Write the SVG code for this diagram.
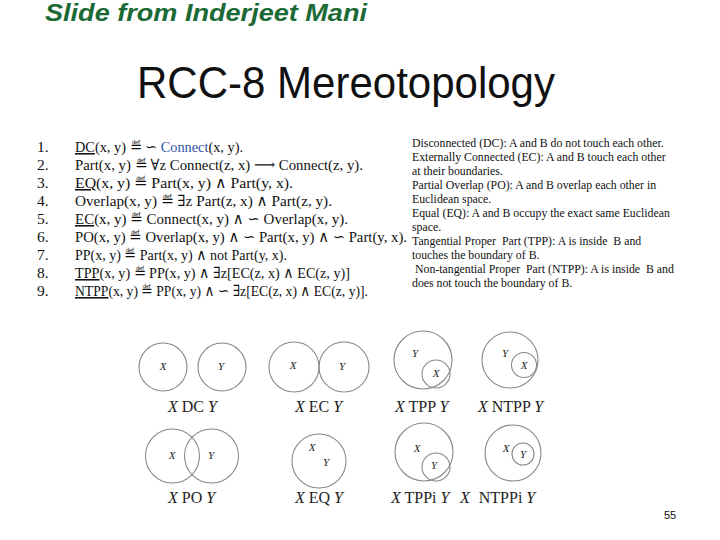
<svg xmlns="http://www.w3.org/2000/svg" width="720" height="540" viewBox="0 0 720 540">
<style>
.hdr{font-family:"Liberation Sans",Arial,sans-serif;font-weight:bold;font-style:italic;font-size:24px;fill:#1b6a36}
.ttl{font-family:"Liberation Sans",Arial,sans-serif;font-size:44px;fill:#111}
.def{font-family:"Liberation Serif","DejaVu Serif",serif;font-size:15.5px;fill:#111}
.ul{text-decoration:underline}
.blue{fill:#2f55a4}
.desc{font-family:"Liberation Serif","DejaVu Serif",serif;font-size:11.8px;fill:#111}
.c{fill:none;stroke:#888;stroke-width:1.1}
.in{font-family:"Liberation Serif",serif;font-style:italic;font-size:11px;fill:#222;text-anchor:middle}
.lbl{font-family:"Liberation Serif",serif;font-size:16px;fill:#222}
.it{font-style:italic}
.pg{font-family:"Liberation Sans",Arial,sans-serif;font-size:11px;fill:#111}
</style>
<rect width="720" height="540" fill="#fff"/>
<text class="hdr" x="45" y="21" textLength="322" lengthAdjust="spacingAndGlyphs">Slide from Inderjeet Mani</text>
<text class="ttl" x="137" y="98" textLength="418" lengthAdjust="spacingAndGlyphs">RCC-8 Mereotopology</text>

<g id="definitions" class="def">
<text x="37" y="152">1.</text><text x="75" y="152" textLength="168" lengthAdjust="spacingAndGlyphs"><tspan class="ul">DC</tspan>(x, y) ≝ ∽ <tspan class="blue">Connect</tspan>(x, y).</text>
<text x="37" y="170">2.</text><text x="75" y="170" textLength="288" lengthAdjust="spacingAndGlyphs">Part(x, y) ≝ ∀z Connect(z, x) ⟶ Connect(z, y).</text>
<text x="37" y="188">3.</text><text x="75" y="188" textLength="218" lengthAdjust="spacingAndGlyphs"><tspan class="ul">EQ</tspan>(x, y) ≝ Part(x, y) ∧ Part(y, x).</text>
<text x="37" y="206">4.</text><text x="75" y="206" textLength="257" lengthAdjust="spacingAndGlyphs">Overlap(x, y) ≝ ∃z Part(z, x) ∧ Part(z, y).</text>
<text x="37" y="224">5.</text><text x="75" y="224" textLength="273" lengthAdjust="spacingAndGlyphs"><tspan class="ul">EC</tspan>(x, y) ≝ Connect(x, y) ∧ ∽ Overlap(x, y).</text>
<text x="37" y="242">6.</text><text x="75" y="242" textLength="332" lengthAdjust="spacingAndGlyphs">PO(x, y) ≝ Overlap(x, y) ∧ ∽ Part(x, y) ∧ ∽ Part(y, x).</text>
<text x="37" y="260">7.</text><text x="75" y="260" textLength="212" lengthAdjust="spacingAndGlyphs">PP(x, y) ≝ Part(x, y) ∧ not Part(y, x).</text>
<text x="37" y="278">8.</text><text x="75" y="278" textLength="275" lengthAdjust="spacingAndGlyphs"><tspan class="ul">TPP</tspan>(x, y) ≝ PP(x, y) ∧ ∃z[EC(z, x) ∧ EC(z, y)]</text>
<text x="37" y="296">9.</text><text x="75" y="296" textLength="293" lengthAdjust="spacingAndGlyphs"><tspan class="ul">NTPP</tspan>(x, y) ≝ PP(x, y) ∧ ∽ ∃z[EC(z, x) ∧ EC(z, y)].</text>
</g>

<g id="descriptions" class="desc">
<text x="412" y="147">Disconnected (DC): A and B do not touch each other.</text>
<text x="412" y="161">Externally Connected (EC): A and B touch each other</text>
<text x="412" y="175">at their boundaries.</text>
<text x="412" y="189">Partial Overlap (PO): A and B overlap each other in</text>
<text x="412" y="203">Euclidean space.</text>
<text x="412" y="217">Equal (EQ): A and B occupy the exact same Euclidean</text>
<text x="412" y="231">space.</text>
<text x="412" y="245">Tangential Proper &#160;Part (TPP): A is inside &#160;B and</text>
<text x="412" y="259">touches the boundary of B.</text>
<text x="415" y="273">Non-tangential Proper &#160;Part (NTPP): A is inside &#160;B and</text>
<text x="412" y="287">does not touch the boundary of B.</text>
</g>

<g id="dc">
<circle class="c" cx="163" cy="367" r="24"/><circle class="c" cx="222" cy="367" r="24"/>
<text class="in" x="163" y="370">X</text><text class="in" x="221" y="370">Y</text>
<text class="lbl" x="168" y="412"><tspan class="it">X</tspan> DC <tspan class="it">Y</tspan></text>
</g>
<g id="ec">
<circle class="c" cx="294" cy="367" r="25"/><circle class="c" cx="344" cy="367" r="25"/>
<text class="in" x="293" y="369">X</text><text class="in" x="342" y="370">Y</text>
<text class="lbl" x="295" y="412"><tspan class="it">X</tspan> EC <tspan class="it">Y</tspan></text>
</g>
<g id="tpp">
<circle class="c" cx="423" cy="360" r="29"/><circle class="c" cx="436" cy="374" r="14"/>
<text class="in" x="415" y="357">Y</text><text class="in" x="436" y="377">X</text>
<text class="lbl" x="395" y="412"><tspan class="it">X</tspan> TPP <tspan class="it">Y</tspan></text>
</g>
<g id="ntpp">
<circle class="c" cx="510" cy="360" r="28"/><circle class="c" cx="524" cy="365" r="12.5"/>
<text class="in" x="505" y="357">Y</text><text class="in" x="524" y="369">X</text>
<text class="lbl" x="478" y="412"><tspan class="it">X</tspan> NTPP <tspan class="it">Y</tspan></text>
</g>

<g id="po">
<circle class="c" cx="172.5" cy="456" r="27"/><circle class="c" cx="211.5" cy="456" r="27"/>
<text class="in" x="172" y="459">X</text><text class="in" x="211" y="459">Y</text>
<text class="lbl" x="168" y="503"><tspan class="it">X</tspan> PO <tspan class="it">Y</tspan></text>
</g>
<g id="eq">
<circle class="c" cx="319" cy="461" r="27"/>
<text class="in" x="312" y="451">X</text><text class="in" x="326" y="466">Y</text>
<text class="lbl" x="295" y="503"><tspan class="it">X</tspan> EQ <tspan class="it">Y</tspan></text>
</g>
<g id="tppi">
<circle class="c" cx="424" cy="452" r="29"/><circle class="c" cx="436" cy="467" r="14"/>
<text class="in" x="417" y="452">X</text><text class="in" x="434" y="469">Y</text>
<text class="lbl" x="391" y="503"><tspan class="it">X</tspan> TPPi <tspan class="it">Y</tspan></text>
</g>
<g id="ntppi">
<circle class="c" cx="513" cy="453" r="28"/><circle class="c" cx="523" cy="454" r="11"/>
<text class="in" x="506" y="452">X</text><text class="in" x="523" y="458">Y</text>
<text class="lbl" x="460" y="503"><tspan class="it">X</tspan> <tspan dx="5">NTPPi</tspan> <tspan class="it">Y</tspan></text>
</g>

<text class="pg" x="664" y="519">55</text>
</svg>
